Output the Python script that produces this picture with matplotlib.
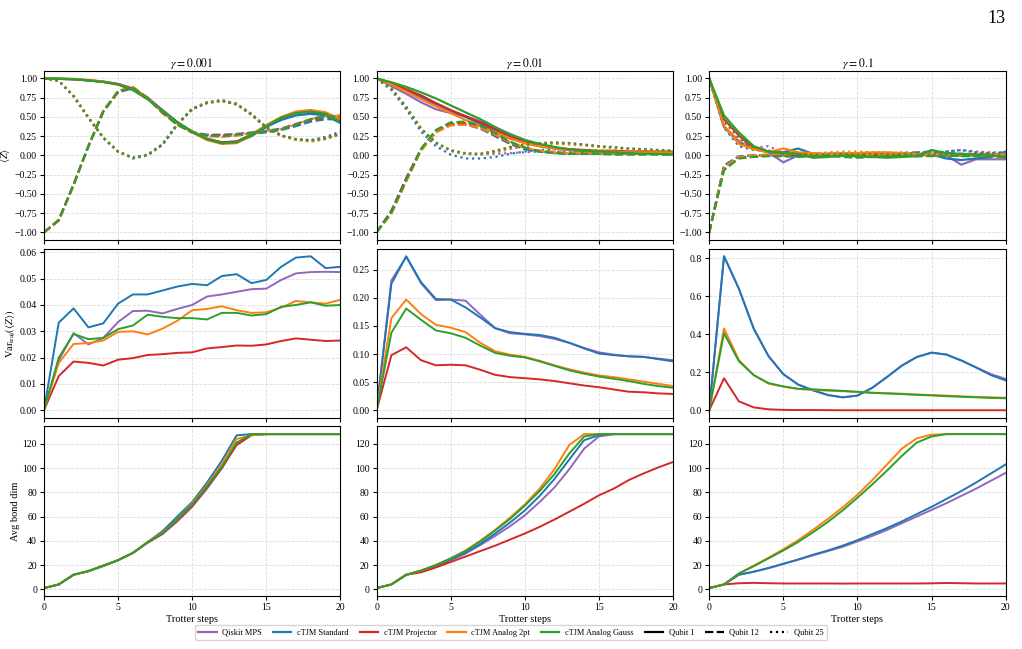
import numpy as np
import matplotlib
matplotlib.use("Agg")
import matplotlib.pyplot as plt
from matplotlib.lines import Line2D

plt.rcParams['font.family'] = ['Liberation Serif', 'DejaVu Serif']
plt.rcParams['mathtext.fontset'] = 'stix'

steps = np.arange(21)
gammas = ["0.001", "0.01", "0.1"]
methods = ["Qiskit MPS", "cTJM Standard", "cTJM Projector", "cTJM Analog 2pt", "cTJM Analog Gauss"]
colors = ["tab:purple", "tab:blue", "tab:red", "tab:orange", "tab:green"]
qubit_labels = ["Qubit 1", "Qubit 12", "Qubit 25"]
qubit_styles = ["-", "--", ":"]

# <Z> per gamma and qubit, one row per method (same order as `methods`)
z_g001_q1 = [
    [1.00, 0.995, 0.99, 0.975, 0.96, 0.93, 0.87, 0.75, 0.59, 0.43, 0.31, 0.22, 0.17, 0.18, 0.26, 0.38, 0.48, 0.55, 0.56, 0.53, 0.45],
    [1.00, 0.995, 0.99, 0.975, 0.955, 0.925, 0.86, 0.74, 0.58, 0.43, 0.31, 0.21, 0.16, 0.17, 0.25, 0.37, 0.46, 0.52, 0.54, 0.52, 0.42],
    [1.00, 0.995, 0.99, 0.975, 0.955, 0.925, 0.86, 0.74, 0.58, 0.43, 0.30, 0.21, 0.17, 0.18, 0.27, 0.39, 0.49, 0.56, 0.58, 0.55, 0.47],
    [1.00, 0.998, 0.995, 0.98, 0.96, 0.92, 0.85, 0.73, 0.57, 0.42, 0.30, 0.20, 0.15, 0.16, 0.26, 0.39, 0.50, 0.57, 0.59, 0.56, 0.47],
    [1.00, 0.995, 0.99, 0.975, 0.955, 0.92, 0.85, 0.73, 0.58, 0.43, 0.31, 0.21, 0.16, 0.17, 0.26, 0.38, 0.49, 0.55, 0.57, 0.54, 0.43],
]
z_g001_q12 = [
    [-1.0, -0.84, -0.38, 0.12, 0.57, 0.82, 0.87, 0.74, 0.56, 0.40, 0.30, 0.27, 0.27, 0.28, 0.30, 0.32, 0.35, 0.41, 0.47, 0.51, 0.51],
    [-1.0, -0.84, -0.38, 0.12, 0.57, 0.83, 0.88, 0.75, 0.56, 0.40, 0.30, 0.26, 0.25, 0.26, 0.28, 0.30, 0.33, 0.38, 0.44, 0.47, 0.47],
    [-1.0, -0.84, -0.38, 0.12, 0.57, 0.83, 0.88, 0.74, 0.55, 0.40, 0.30, 0.26, 0.26, 0.27, 0.29, 0.31, 0.34, 0.40, 0.46, 0.50, 0.51],
    [-1.0, -0.85, -0.39, 0.12, 0.58, 0.84, 0.89, 0.75, 0.56, 0.40, 0.30, 0.25, 0.24, 0.26, 0.29, 0.31, 0.34, 0.40, 0.47, 0.52, 0.52],
    [-1.0, -0.84, -0.38, 0.12, 0.57, 0.83, 0.88, 0.74, 0.56, 0.40, 0.30, 0.26, 0.25, 0.27, 0.29, 0.31, 0.34, 0.40, 0.47, 0.51, 0.50],
]
z_g001_q25 = [
    [1.0, 0.97, 0.77, 0.49, 0.23, 0.05, -0.03, 0.01, 0.14, 0.40, 0.60, 0.69, 0.71, 0.67, 0.53, 0.36, 0.26, 0.21, 0.19, 0.22, 0.29],
    [1.0, 0.97, 0.77, 0.49, 0.23, 0.05, -0.04, 0.00, 0.14, 0.40, 0.60, 0.68, 0.71, 0.66, 0.53, 0.36, 0.26, 0.21, 0.20, 0.24, 0.31],
    [1.0, 0.97, 0.77, 0.49, 0.23, 0.05, -0.03, 0.01, 0.15, 0.41, 0.61, 0.69, 0.72, 0.67, 0.54, 0.37, 0.26, 0.21, 0.19, 0.22, 0.29],
    [1.0, 0.97, 0.78, 0.50, 0.24, 0.05, -0.03, 0.01, 0.14, 0.40, 0.60, 0.69, 0.71, 0.67, 0.53, 0.36, 0.25, 0.20, 0.18, 0.21, 0.27],
    [1.0, 0.97, 0.77, 0.49, 0.23, 0.05, -0.03, 0.01, 0.14, 0.40, 0.60, 0.68, 0.71, 0.66, 0.53, 0.36, 0.26, 0.21, 0.19, 0.22, 0.28],
]
z_g01_q1 = [
    [1.0, 0.90, 0.80, 0.69, 0.60, 0.55, 0.51, 0.44, 0.36, 0.28, 0.20, 0.14, 0.10, 0.08, 0.06, 0.05, 0.04, 0.04, 0.03, 0.03, 0.03],
    [1.0, 0.93, 0.85, 0.76, 0.66, 0.58, 0.50, 0.41, 0.31, 0.22, 0.16, 0.12, 0.09, 0.07, 0.05, 0.05, 0.04, 0.04, 0.04, 0.03, 0.03],
    [1.0, 0.94, 0.86, 0.78, 0.68, 0.59, 0.51, 0.43, 0.34, 0.25, 0.18, 0.13, 0.10, 0.08, 0.07, 0.06, 0.06, 0.05, 0.05, 0.05, 0.05],
    [1.0, 0.92, 0.83, 0.73, 0.64, 0.55, 0.46, 0.38, 0.30, 0.22, 0.16, 0.12, 0.09, 0.07, 0.06, 0.05, 0.05, 0.04, 0.04, 0.04, 0.04],
    [1.0, 0.95, 0.89, 0.82, 0.74, 0.65, 0.56, 0.47, 0.37, 0.27, 0.20, 0.15, 0.11, 0.08, 0.06, 0.05, 0.04, 0.03, 0.02, 0.02, 0.01],
]
z_g01_q12 = [
    [-1.0, -0.72, -0.30, 0.08, 0.30, 0.40, 0.40, 0.35, 0.26, 0.16, 0.09, 0.05, 0.03, 0.02, 0.02, 0.02, 0.02, 0.02, 0.02, 0.02, 0.02],
    [-1.0, -0.72, -0.30, 0.08, 0.31, 0.40, 0.41, 0.35, 0.25, 0.15, 0.08, 0.05, 0.03, 0.03, 0.03, 0.03, 0.03, 0.03, 0.03, 0.03, 0.03],
    [-1.0, -0.73, -0.30, 0.08, 0.32, 0.41, 0.42, 0.37, 0.27, 0.17, 0.10, 0.06, 0.04, 0.03, 0.03, 0.03, 0.03, 0.03, 0.03, 0.03, 0.03],
    [-1.0, -0.76, -0.34, 0.06, 0.30, 0.39, 0.40, 0.36, 0.27, 0.17, 0.10, 0.06, 0.04, 0.03, 0.03, 0.03, 0.03, 0.03, 0.02, 0.02, 0.02],
    [-1.0, -0.74, -0.32, 0.08, 0.33, 0.43, 0.44, 0.39, 0.29, 0.18, 0.10, 0.05, 0.03, 0.02, 0.02, 0.02, 0.01, 0.01, 0.01, 0.01, 0.01],
]
z_g01_q25 = [
    [1.0, 0.86, 0.62, 0.34, 0.16, 0.06, 0.02, 0.01, 0.02, 0.03, 0.04, 0.05, 0.05, 0.05, 0.05, 0.05, 0.05, 0.05, 0.05, 0.04, 0.04],
    [1.0, 0.85, 0.60, 0.31, 0.12, 0.01, -0.04, -0.04, -0.02, 0.02, 0.05, 0.07, 0.08, 0.08, 0.07, 0.06, 0.06, 0.05, 0.05, 0.04, 0.04],
    [1.0, 0.87, 0.63, 0.35, 0.16, 0.06, 0.02, 0.02, 0.06, 0.11, 0.14, 0.16, 0.17, 0.16, 0.14, 0.12, 0.10, 0.09, 0.08, 0.07, 0.06],
    [1.0, 0.87, 0.63, 0.35, 0.16, 0.06, 0.02, 0.01, 0.04, 0.08, 0.12, 0.14, 0.15, 0.14, 0.13, 0.11, 0.09, 0.08, 0.07, 0.06, 0.05],
    [1.0, 0.87, 0.63, 0.35, 0.17, 0.07, 0.03, 0.02, 0.05, 0.10, 0.14, 0.16, 0.16, 0.16, 0.14, 0.12, 0.11, 0.09, 0.08, 0.07, 0.06],
]
z_g1_q1 = [
    [1.0, 0.38, 0.18, 0.09, 0.04, -0.09, 0.00, -0.02, 0.01, 0.00, -0.01, -0.02, -0.01, 0.00, 0.01, 0.02, 0.00, -0.12, -0.05, -0.05, -0.05],
    [1.0, 0.37, 0.16, 0.09, 0.04, 0.04, 0.09, 0.02, 0.01, 0.00, 0.01, 0.00, 0.00, 0.01, 0.02, 0.01, -0.04, -0.06, -0.04, -0.02, 0.05],
    [1.0, 0.47, 0.26, 0.10, 0.05, 0.02, 0.02, 0.01, 0.00, 0.00, 0.00, -0.01, 0.00, 0.01, 0.01, 0.01, 0.01, 0.00, 0.00, 0.00, 0.00],
    [1.0, 0.38, 0.15, 0.08, 0.04, 0.09, 0.04, 0.03, 0.02, 0.03, 0.03, 0.04, 0.04, 0.03, 0.02, 0.02, 0.01, 0.01, 0.00, 0.01, 0.01],
    [1.0, 0.52, 0.30, 0.12, 0.05, 0.03, 0.02, -0.03, -0.02, 0.00, -0.01, -0.02, -0.03, -0.02, -0.01, 0.07, 0.03, 0.02, 0.01, 0.00, -0.03],
]
z_g1_q12 = [
    [-1.0, -0.14, -0.02, 0.00, 0.01, 0.00, -0.01, 0.00, 0.01, 0.00, -0.01, 0.00, 0.01, 0.00, 0.00, 0.01, 0.00, 0.00, 0.01, 0.01, 0.00],
    [-1.0, -0.13, -0.01, 0.00, 0.00, 0.00, 0.00, 0.01, 0.00, 0.01, 0.00, 0.01, 0.02, 0.03, 0.04, 0.05, 0.03, 0.02, 0.01, 0.02, 0.00],
    [-1.0, -0.18, -0.03, -0.01, 0.00, -0.01, 0.00, 0.00, -0.01, -0.01, -0.02, -0.01, 0.00, 0.00, -0.01, 0.00, 0.00, 0.00, 0.00, 0.00, 0.00],
    [-1.0, -0.15, -0.02, 0.00, 0.01, 0.01, 0.02, 0.01, 0.01, 0.00, 0.00, 0.01, 0.01, 0.01, 0.00, 0.00, 0.01, 0.01, 0.00, 0.00, 0.01],
    [-1.0, -0.19, -0.04, -0.02, -0.01, -0.01, -0.02, -0.01, 0.00, -0.02, -0.03, -0.02, -0.01, 0.00, -0.01, -0.01, 0.00, -0.01, -0.01, -0.01, -0.02],
]
z_g1_q25 = [
    [1.0, 0.36, 0.20, 0.10, 0.12, 0.03, 0.02, 0.02, 0.03, 0.03, 0.02, 0.03, 0.02, 0.04, 0.03, 0.02, 0.05, 0.07, 0.05, 0.04, 0.04],
    [1.0, 0.36, 0.12, 0.07, 0.06, 0.02, 0.00, 0.01, 0.02, 0.03, 0.02, 0.01, 0.02, 0.03, 0.03, 0.04, 0.05, 0.07, 0.04, 0.03, 0.04],
    [1.0, 0.44, 0.23, 0.10, 0.06, 0.04, 0.02, 0.01, 0.02, 0.02, 0.02, 0.02, 0.01, 0.02, 0.02, 0.01, 0.01, 0.02, 0.02, 0.01, 0.01],
    [1.0, 0.38, 0.19, 0.09, 0.05, 0.03, 0.02, 0.02, 0.04, 0.05, 0.05, 0.04, 0.04, 0.03, 0.02, 0.02, 0.02, 0.02, 0.02, 0.02, 0.02],
    [1.0, 0.47, 0.25, 0.11, 0.06, 0.03, 0.02, 0.01, 0.01, 0.02, 0.01, 0.02, 0.01, 0.02, 0.01, 0.01, 0.02, 0.01, 0.01, 0.01, 0.00],
]

# trajectory variance of <Z>
var_g001 = [
    [0, 0.019, 0.0293, 0.025, 0.0275, 0.0335, 0.0377, 0.0378, 0.0368, 0.0385, 0.0400, 0.0432, 0.0440, 0.0450, 0.0460, 0.0462, 0.0495, 0.0520, 0.0525, 0.0526, 0.0525],
    [0, 0.0333, 0.0387, 0.0315, 0.0330, 0.0405, 0.0440, 0.0440, 0.0455, 0.0470, 0.0480, 0.0475, 0.0510, 0.0517, 0.0483, 0.0495, 0.0545, 0.0580, 0.0585, 0.0540, 0.0545],
    [0, 0.013, 0.0185, 0.018, 0.0170, 0.0192, 0.0198, 0.0210, 0.0213, 0.0218, 0.0220, 0.0235, 0.0240, 0.0246, 0.0245, 0.0250, 0.0263, 0.0273, 0.0268, 0.0263, 0.0265],
    [0, 0.018, 0.0252, 0.0255, 0.0265, 0.0298, 0.0300, 0.0288, 0.0310, 0.0340, 0.0380, 0.0385, 0.0395, 0.0380, 0.0370, 0.0372, 0.0390, 0.0415, 0.0410, 0.0405, 0.0420],
    [0, 0.020, 0.0290, 0.027, 0.0275, 0.0308, 0.0322, 0.0363, 0.0355, 0.0350, 0.0350, 0.0345, 0.0370, 0.0370, 0.0360, 0.0365, 0.0393, 0.0400, 0.0410, 0.0397, 0.0400],
]
var_g01 = [
    [0, 0.231, 0.273, 0.226, 0.196, 0.197, 0.195, 0.170, 0.146, 0.137, 0.135, 0.132, 0.127, 0.120, 0.111, 0.103, 0.099, 0.096, 0.095, 0.092, 0.089],
    [0, 0.225, 0.274, 0.228, 0.198, 0.197, 0.183, 0.165, 0.146, 0.139, 0.136, 0.134, 0.129, 0.120, 0.110, 0.101, 0.098, 0.096, 0.095, 0.091, 0.087],
    [0, 0.098, 0.112, 0.089, 0.080, 0.081, 0.080, 0.072, 0.063, 0.059, 0.057, 0.055, 0.052, 0.048, 0.044, 0.041, 0.037, 0.033, 0.032, 0.030, 0.029],
    [0, 0.164, 0.197, 0.171, 0.152, 0.147, 0.139, 0.120, 0.105, 0.099, 0.095, 0.088, 0.080, 0.073, 0.067, 0.062, 0.059, 0.055, 0.051, 0.047, 0.043],
    [0, 0.138, 0.181, 0.161, 0.142, 0.137, 0.129, 0.115, 0.102, 0.097, 0.094, 0.087, 0.079, 0.071, 0.065, 0.060, 0.056, 0.052, 0.047, 0.043, 0.040],
]
var_g1 = [
    [0, 0.81, 0.64, 0.43, 0.285, 0.19, 0.135, 0.105, 0.080, 0.068, 0.077, 0.118, 0.175, 0.235, 0.280, 0.303, 0.293, 0.262, 0.226, 0.190, 0.165],
    [0, 0.81, 0.64, 0.43, 0.285, 0.19, 0.135, 0.105, 0.080, 0.068, 0.077, 0.118, 0.175, 0.235, 0.280, 0.303, 0.293, 0.262, 0.225, 0.185, 0.157],
    [0, 0.168, 0.047, 0.015, 0.005, 0.002, 0.001, 0.001, 0.0005, 0, 0, 0, 0, 0, 0, 0, 0, 0, 0, 0, 0],
    [0, 0.430, 0.265, 0.185, 0.140, 0.125, 0.112, 0.107, 0.103, 0.100, 0.096, 0.092, 0.090, 0.087, 0.083, 0.080, 0.077, 0.073, 0.070, 0.068, 0.066],
    [0, 0.405, 0.258, 0.185, 0.143, 0.125, 0.113, 0.110, 0.106, 0.102, 0.097, 0.092, 0.088, 0.085, 0.081, 0.078, 0.074, 0.071, 0.068, 0.065, 0.063],
]

# average bond dimension
bond_g001 = [
    [1, 4, 12, 15, 19, 24, 30, 38.5, 45.5, 56, 68, 83, 100, 120, 128, 128, 128, 128, 128, 128, 128],
    [1, 4, 12, 15, 19.5, 24, 30, 39, 48, 60, 72, 88, 106, 127, 128, 128, 128, 128, 128, 128, 128],
    [1, 4, 12, 15, 19.5, 24, 30, 38.5, 46, 57, 69, 84, 100, 119, 127, 128, 128, 128, 128, 128, 128],
    [1, 4, 12, 15, 19.5, 24, 30, 39, 47, 58, 71, 86, 103, 124, 127, 128, 128, 128, 128, 128, 128],
    [1, 4, 12, 15, 19.5, 24, 30, 39, 46.5, 58, 70, 85, 101, 121, 128, 128, 128, 128, 128, 128, 128],
]
bond_g01 = [
    [1, 4, 12, 15, 19, 24, 29.5, 36.5, 44, 52, 61, 72, 84, 99, 116, 126, 128, 128, 128, 128, 128],
    [1, 4, 12, 15, 19.5, 24.5, 30, 37.5, 46, 55, 65, 77, 91, 107, 123, 127, 128, 128, 128, 128, 128],
    [1, 4, 12, 14, 18, 22.5, 27, 31.5, 36, 41, 46, 51.5, 57.5, 64, 70.5, 77.5, 83, 90, 95.5, 100.5, 105],
    [1, 4, 12, 15.5, 20, 25.5, 32, 40, 49, 59, 70, 83, 99, 119, 128, 128, 128, 128, 128, 128, 128],
    [1, 4, 12, 15.5, 20, 25.5, 31.5, 39.5, 48.5, 58, 69, 81, 95, 112, 126, 128, 128, 128, 128, 128, 128],
]
bond_g1 = [
    [1, 4, 12, 14.5, 17.5, 21, 24.5, 28, 31.5, 35, 39.5, 44, 49, 54.5, 60, 65.5, 71, 77, 83, 89.5, 96],
    [1, 4, 12, 14.5, 17.5, 21, 24.5, 28.5, 32, 36, 40.5, 45.5, 50.5, 56, 62, 68, 74.5, 81, 88, 95.5, 103],
    [1, 4, 5, 5.3, 5, 4.8, 4.8, 4.8, 4.8, 4.7, 4.8, 4.8, 4.8, 4.8, 4.8, 4.9, 5.2, 5.0, 4.8, 4.8, 4.8],
    [1, 4, 13, 19.5, 26, 33, 40.5, 49, 58, 67.5, 78, 90, 103, 116, 124.5, 127.5, 128, 128, 128, 128, 128],
    [1, 4, 13, 19, 25.5, 32, 39, 47, 55.5, 65, 75.5, 86.5, 98, 110, 121, 126, 128, 128, 128, 128, 128],
]

z_data = [[z_g001_q1, z_g001_q12, z_g001_q25],
          [z_g01_q1, z_g01_q12, z_g01_q25],
          [z_g1_q1, z_g1_q12, z_g1_q25]]
var_data = [var_g001, var_g01, var_g1]
bond_data = [bond_g001, bond_g01, bond_g1]

fig, axes = plt.subplots(3, 3, figsize=(10.22, 6.49), dpi=100, sharex=True)
fig.subplots_adjust(left=0.043, right=0.984, top=0.891, bottom=0.082,
                    wspace=0.122, hspace=0.05)

for col in range(3):
    ax_z, ax_v, ax_b = axes[0, col], axes[1, col], axes[2, col]
    for m in range(5):
        for q in range(3):
            ax_z.plot(steps, z_data[col][q][m], color=colors[m],
                      ls=qubit_styles[q], lw=1.6)
        ax_v.plot(steps, var_data[col][m], color=colors[m], lw=1.4)
        ax_b.plot(steps, bond_data[col][m], color=colors[m], lw=1.4)
    ax_z.set_title(r'$\gamma = $' + r'$' + gammas[col] + r'$', fontsize=8.5, pad=3)
    ax_b.set_xlabel("Trotter steps", fontsize=7.5, labelpad=2)
    for ax in (ax_z, ax_v, ax_b):
        ax.grid(True, ls='--', lw=0.6, color='#dcdcdc')
        ax.tick_params(labelsize=7, length=3, pad=2)
        ax.set_xlim(0, 20)
        ax.set_xticks([0, 5, 10, 15, 20])
    ax_z.set_yticks([-1.0, -0.75, -0.5, -0.25, 0.0, 0.25, 0.5, 0.75, 1.0])

axes[0, 0].set_ylabel(r'$\langle Z\rangle$', fontsize=7.5, labelpad=2)
axes[1, 0].set_ylabel(r'$\mathrm{Var}_{\mathrm{traj}}(\langle Z\rangle)$', fontsize=7.5, labelpad=2)
axes[2, 0].set_ylabel("Avg bond dim", fontsize=7.5, labelpad=2)

handles = [Line2D([], [], color=c, lw=1.6) for c in colors]
handles += [Line2D([], [], color='black', ls=s, lw=1.6) for s in qubit_styles]
fig.legend(handles, methods + qubit_labels, loc='center', bbox_to_anchor=(0.5, 0.025),
           ncol=8, fontsize=6, frameon=True, handlelength=2.2, columnspacing=1.3,
           borderpad=0.4, handletextpad=0.7)

fig.text(0.984, 0.985, "13", ha='right', va='top', fontsize=13)

fig.savefig("out.png", dpi=100)
